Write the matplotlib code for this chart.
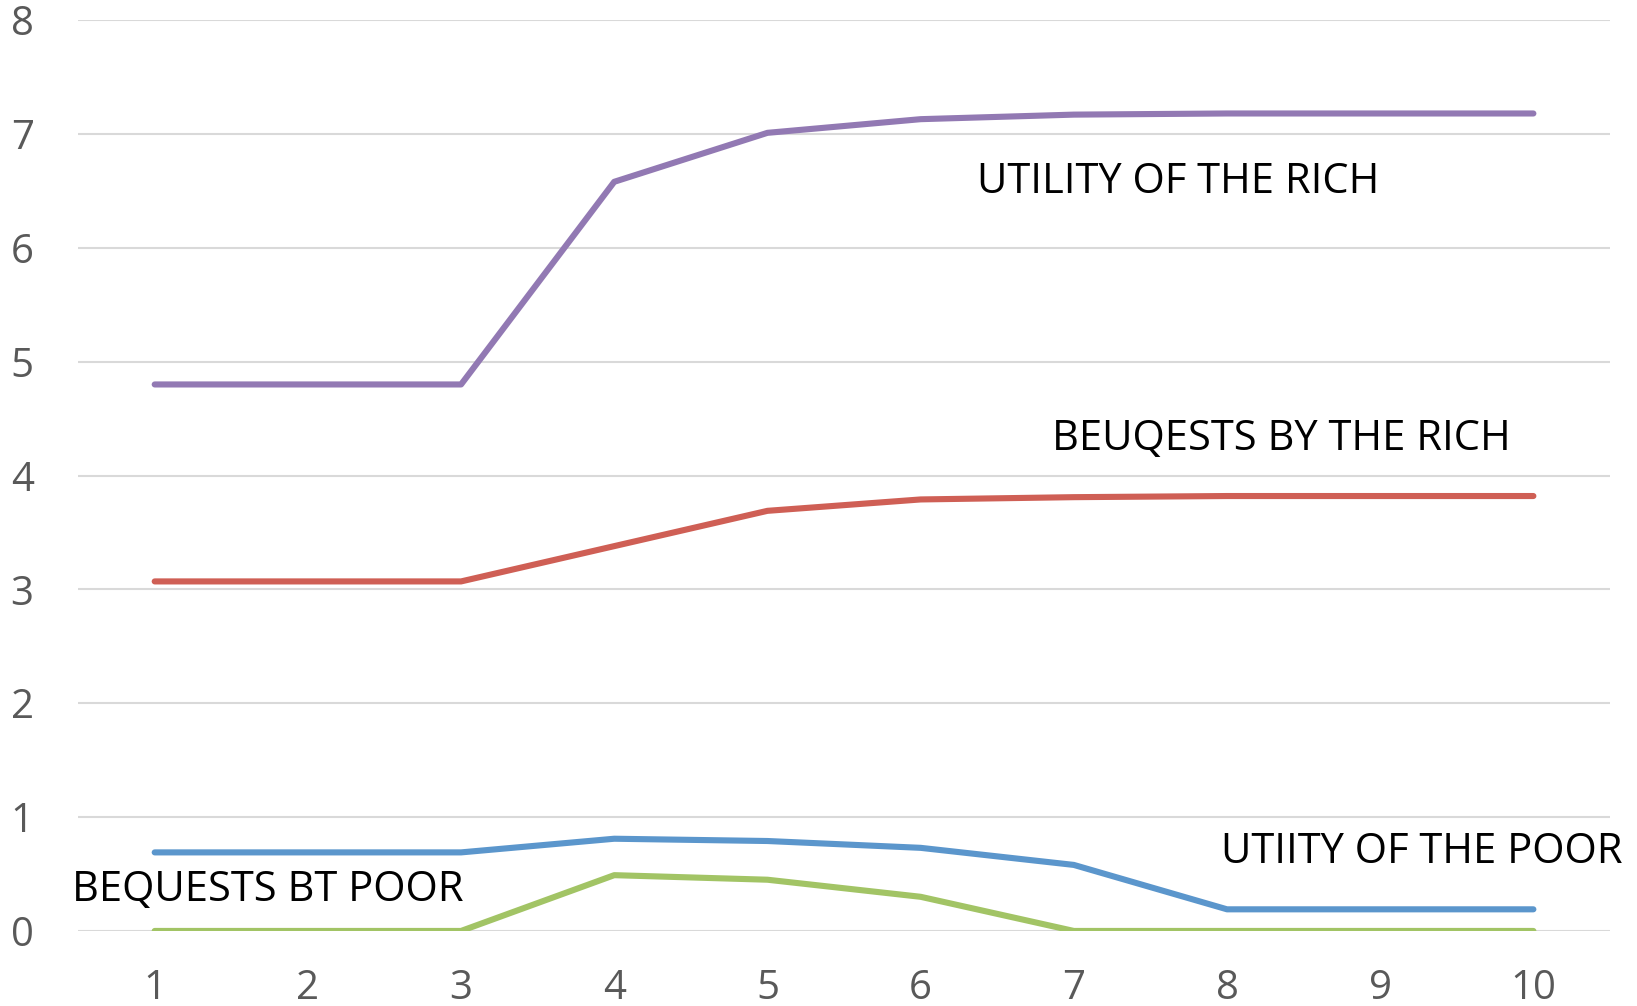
import matplotlib.pyplot as plt
from matplotlib import font_manager

periods = [1, 2, 3, 4, 5, 6, 7, 8, 9, 10]
utility_rich = [4.80, 4.80, 4.80, 6.58, 7.01, 7.13, 7.17, 7.18, 7.18, 7.18]
bequests_rich = [3.07, 3.07, 3.07, 3.38, 3.69, 3.79, 3.81, 3.82, 3.82, 3.82]
utility_poor = [0.69, 0.69, 0.69, 0.81, 0.79, 0.73, 0.58, 0.19, 0.19, 0.19]
bequests_poor = [0.0, 0.0, 0.0, 0.49, 0.45, 0.30, 0.0, 0.0, 0.0, 0.0]

names = [f.name for f in font_manager.fontManager.ttflist]
font = 'Liberation Sans Narrow' if 'Liberation Sans Narrow' in names else 'Open Sans'
plt.rcParams['font.family'] = [font, 'DejaVu Sans']

fig = plt.figure(figsize=(16.37, 10.06), dpi=100)
ax = fig.add_axes([0.0477, 0.0746, 0.9358, 0.9054])

lw = 4.4
ax.plot(periods, utility_poor, color='#5B96CC', lw=lw, solid_capstyle='round')
ax.plot(periods, bequests_rich, color='#CF5F55', lw=lw, solid_capstyle='round')
ax.plot(periods, bequests_poor, color='#A2C465', lw=lw, solid_capstyle='round')
ax.plot(periods, utility_rich, color='#9279B3', lw=lw, solid_capstyle='round')

ax.set_xlim(0.5, 10.5)
ax.set_ylim(0, 8)
ax.set_xticks(periods)
ax.set_yticks(range(9))
ax.grid(axis='y', color='#D9D9D9', lw=1.5)
ax.set_axisbelow(True)
for s in ax.spines.values():
    s.set_visible(False)
ax.tick_params(length=0, labelsize=29, labelcolor='#595959')
ax.tick_params(axis='y', pad=32)
ax.tick_params(axis='x', pad=27)

txt = dict(fontsize=30, color='black', va='center', ha='left')
ax.text(6.37, 6.58, 'UTILITY OF THE RICH', **txt)
ax.text(6.86, 4.32, 'BEUQESTS BY THE RICH', **txt)
ax.text(7.96, 0.69, 'UTIITY OF THE POOR', **txt)
ax.text(0.46, 0.36, 'BEQUESTS BT POOR', **txt)

fig.savefig('out.png', dpi=100)
